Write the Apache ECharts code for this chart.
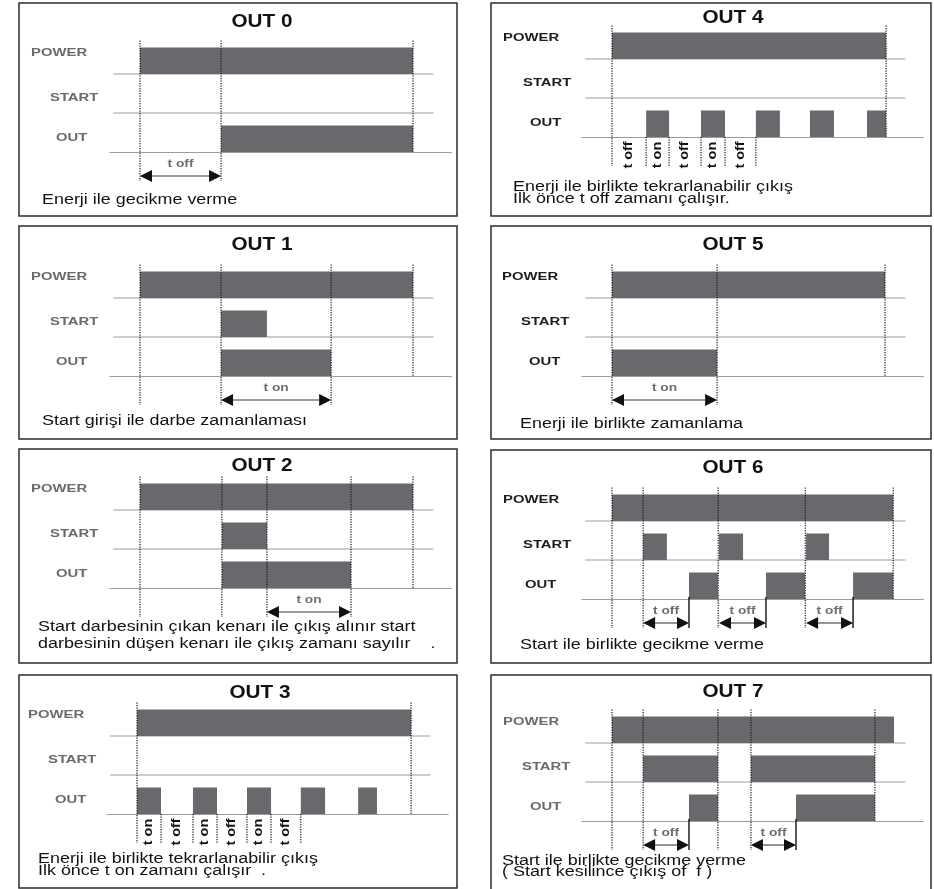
<!DOCTYPE html>
<html>
<head>
<meta charset="utf-8">
<script src="https://cdn.jsdelivr.net/npm/echarts@6/dist/echarts.min.js"></script>
<style>
html,body{margin:0;padding:0;background:#fff;}
#chart{width:934px;height:889px;}
</style>
</head>
<body>
<div id="chart"></div>
<script>
// ---------------- DATA ----------------
const rows = ['POWER', 'START', 'OUT'];
const titles = ['OUT 0', 'OUT 1', 'OUT 2', 'OUT 3', 'OUT 4', 'OUT 5', 'OUT 6', 'OUT 7'];
const captions = [
  ['Enerji ile gecikme verme'],
  ['Start girişi ile darbe zamanlaması'],
  ['Start darbesinin çıkan kenarı ile çıkış alınır start', 'darbesinin düşen kenarı ile çıkış zamanı sayılır    .'],
  ['Enerji ile birlikte tekrarlanabilir çıkış', 'İlk önce t on zamanı çalışır  .'],
  ['Enerji ile birlikte tekrarlanabilir çıkış', 'İlk önce t off zamanı çalışır.'],
  ['Enerji ile birlikte zamanlama'],
  ['Start ile birlikte gecikme verme'],
  ['Start ile birlikte gecikme verme', '( Start kesilince çıkış of  f )']
];
// signal "on" spans [from, to] in time units, power switched on at t = 0
const powerSpans = [
  [[0, 100]], [[0, 100]], [[0, 100]], [[0, 100.4]],
  [[0, 100.4]], [[0, 100]], [[0, 103]], [[0, 103.3]]
];
const startSpans = [
  [], [[29.7, 46.5]], [[30, 46.5]], [],
  [], [], [[11.4, 20.1], [39.2, 48], [71.1, 79.5]], [[11.4, 38.8], [50.9, 96.3]]
];
const outSpans = [
  [[29.7, 100]],
  [[29.7, 70]],
  [[30, 77.3]],
  [[0, 8.8], [20.5, 29.3], [40.3, 49.1], [60, 68.9], [81, 87.9]],
  [[12.5, 20.9], [32.6, 41.4], [52.7, 61.5], [72.5, 81.3], [93.4, 100.4]],
  [[0, 38.5]],
  [[28.2, 38.8], [56.4, 70.7], [88.3, 103]],
  [[28.2, 38.8], [67.4, 96.3]]
];
// dotted guide lines: [time, extent]  (full / top / low)
const guideTimes = [
  [[0, 'full'], [29.7, 'full'], [100, 'top']],
  [[0, 'full'], [29.7, 'full'], [70, 'full'], [100, 'top']],
  [[0, 'full'], [30, 'full'], [46.5, 'full'], [77.3, 'full'], [100, 'top']],
  [[0, 'full'], [8.8, 'low'], [20.5, 'low'], [29.3, 'low'], [40.3, 'low'], [49.1, 'low'], [60, 'low'], [100.4, 'top']],
  [[0, 'full'], [12.5, 'low'], [20.9, 'low'], [32.6, 'low'], [41.4, 'low'], [52.7, 'low'], [100.4, 'top']],
  [[0, 'full'], [38.5, 'full'], [100, 'top']],
  [[0, 'full'], [11.4, 'full'], [38.9, 'full'], [70.8, 'full'], [103, 'top']],
  [[0, 'full'], [11.4, 'full'], [38.8, 'full'], [50.9, 'full'], [96.3, 'top']]
];
// solid end-of-delay markers
const stopTimes = [[], [], [], [], [], [], [28.2, 56.4, 88.3], [28.2, 67.4]];
// double-headed timing arrows: [from, to, label]
const timedArrows = [
  [[0, 29.7, 't off']],
  [[29.7, 70, 't on']],
  [[46.5, 77.3, 't on']],
  [],
  [],
  [[0, 38.5, 't on']],
  [[11.4, 28.2, 't off'], [39.2, 56.4, 't off'], [71.1, 88.3, 't off']],
  [[11.4, 28.2, 't off'], [50.9, 67.4, 't off']]
];
// vertical interval labels: [from, to, label]
const stepLabels = [
  [], [], [],
  [[0, 8.8, 't on'], [8.8, 20.5, 't off'], [20.5, 29.3, 't on'], [29.3, 40.3, 't off'], [40.3, 49.1, 't on'], [49.1, 60, 't off']],
  [[0, 12.5, 't off'], [12.5, 20.9, 't on'], [20.9, 32.6, 't off'], [32.6, 41.4, 't on'], [41.4, 52.7, 't off']],
  [], [], []
];

// ---------------- LAYOUT ----------------
const PXU = 2.73;            // pixels per time unit
const ROWH = 39;             // pixels per signal row
const XMIN = -11, XMAX = 114;
const BASE_SPAN = [-9.8, 107.5];
const BAR_H = 0.68;
const BAR_COLOR = '#68696d';
const LINE_COLOR = '#9c9c9c';
const FONT = '"Liberation Sans", Arial, sans-serif';
const layout = [
  { box: [19, 3, 438, 213], x0: 140, base: 152, title: [262, 22], cap: [42, [200]], lab: '#6b6b6b', labX: [12, 31, 37] },
  { box: [19, 226, 438, 213], x0: 140, base: 376, title: [262, 245], cap: [42, [421]], lab: '#6b6b6b', labX: [12, 31, 37] },
  { box: [19, 449, 438, 214], x0: 140, base: 588, title: [262, 466], cap: [38, [627, 644]], lab: '#6b6b6b', labX: [12, 31, 37] },
  { box: [19, 675, 438, 213], x0: 137, base: 814, title: [260, 693], cap: [38, [859, 871]], lab: '#6b6b6b', labX: [9, 29, 36] },
  { box: [491, 3, 440, 213], x0: 612, base: 137, title: [733, 18], cap: [513, [187, 199]], lab: '#1e1e1e', labX: [12, 32, 39] },
  { box: [491, 226, 440, 213], x0: 612, base: 376, title: [733, 245], cap: [520, [424]], lab: '#1e1e1e', labX: [11, 30, 38] },
  { box: [491, 450, 440, 213], x0: 612, base: 599, title: [733, 468], cap: [520, [645]], lab: '#1e1e1e', labX: [12, 32, 34] },
  { box: [491, 675, 440, 216], x0: 612, base: 821, title: [733, 692], cap: [502, [861, 872]], lab: '#6b6b6b', labX: [12, 31, 39] }
];
const LAB_DY = [-21, -15, -14];

const chart = echarts.init(document.getElementById('chart'), null, { renderer: 'canvas' });

const grids = [], xAxes = [], yAxes = [], series = [], graphics = [];

function rowValue(name) { return rows.length - 1 - rows.indexOf(name); }

function txt(text, x, y, font, fill, align, extra) {
  return Object.assign({
    type: 'text', x: x, y: y, silent: true,
    style: { text: text, font: font, fill: fill, align: align, verticalAlign: 'middle',
             textAlign: align, textVerticalAlign: 'middle' }
  }, extra || {});
}

layout.forEach((L, p) => {
  grids.push({ left: L.x0 + XMIN * PXU, top: L.base - 3 * ROWH, width: (XMAX - XMIN) * PXU, height: 3 * ROWH });
  xAxes.push({ gridIndex: p, type: 'value', min: XMIN, max: XMAX,
    axisLine: { show: true, onZero: false, lineStyle: { color: LINE_COLOR, width: 1.2 } },
    axisTick: { show: false }, axisLabel: { show: false }, splitLine: { show: false } });
  yAxes.push({ gridIndex: p, type: 'value', min: 0, max: 3, show: false, splitLine: { show: false } });

  // baselines of POWER and START rows
  series.push({
    type: 'custom', xAxisIndex: p, yAxisIndex: p, silent: true,
    data: [[BASE_SPAN[0], rowValue('POWER')], [BASE_SPAN[0], rowValue('START')]],
    renderItem: function (params, api) {
      const a = api.coord([BASE_SPAN[0], api.value(1)]);
      const b = api.coord([BASE_SPAN[1], api.value(1)]);
      return { type: 'line', shape: { x1: a[0], y1: a[1], x2: b[0], y2: b[1] },
               style: { stroke: LINE_COLOR, lineWidth: 1.2 } };
    }
  });

  // signal bars
  const barData = [];
  powerSpans[p].forEach(s => barData.push([s[0], s[1], rowValue('POWER')]));
  startSpans[p].forEach(s => barData.push([s[0], s[1], rowValue('START')]));
  outSpans[p].forEach(s => barData.push([s[0], s[1], rowValue('OUT')]));
  series.push({
    type: 'custom', xAxisIndex: p, yAxisIndex: p, silent: true,
    encode: { x: [0, 1], y: 2 },
    data: barData,
    renderItem: function (params, api) {
      const s = api.coord([api.value(0), api.value(2)]);
      const e = api.coord([api.value(1), api.value(2)]);
      const h = api.size([0, BAR_H])[1];
      return { type: 'rect', shape: { x: s[0], y: s[1] - h, width: e[0] - s[0], height: h },
               style: { fill: BAR_COLOR } };
    }
  });

  // dotted guides
  const gts = guideTimes[p];
  series.push({
    type: 'custom', xAxisIndex: p, yAxisIndex: p, silent: true,
    data: gts.map(g => [g[0], 0]),
    renderItem: function (params, api) {
      const kind = gts[params.dataIndex][1];
      const top = api.coord([api.value(0), rowValue('POWER') + BAR_H]);
      const base = api.coord([api.value(0), 0]);
      let y1 = top[1] - 7, y2 = base[1] + 29;
      if (kind === 'top') y2 = base[1];
      if (kind === 'low') y1 = base[1];
      return { type: 'line', shape: { x1: base[0], y1: y1, x2: base[0], y2: y2 },
               style: { stroke: '#1a1a1a', lineWidth: 1.2, lineDash: [1.2, 1.3] } };
    }
  });

  // solid stop markers
  if (stopTimes[p].length) {
    series.push({
      type: 'custom', xAxisIndex: p, yAxisIndex: p, silent: true,
      data: stopTimes[p].map(t => [t, 0]),
      renderItem: function (params, api) {
        const b = api.coord([api.value(0), 0]);
        return { type: 'line', shape: { x1: b[0], y1: b[1] - 2, x2: b[0], y2: b[1] + 29 },
                 style: { stroke: '#111', lineWidth: 1.4 } };
      }
    });
  }

  // timing arrows
  const arr = timedArrows[p];
  if (arr.length) {
    series.push({
      type: 'custom', xAxisIndex: p, yAxisIndex: p, silent: true,
      data: arr.map(a => [a[0], a[1], 0]),
      renderItem: function (params, api) {
        const a = api.coord([api.value(0), 0]);
        const b = api.coord([api.value(1), 0]);
        const y = a[1] + 24, hl = 12, hw = 6;
        const label = arr[params.dataIndex][2];
        return { type: 'group', children: [
          { type: 'line', shape: { x1: a[0] + hl, y1: y, x2: b[0] - hl, y2: y },
            style: { stroke: '#7a7a7a', lineWidth: 1.6 } },
          { type: 'polygon', shape: { points: [[a[0], y], [a[0] + hl, y - hw], [a[0] + hl, y + hw]] },
            style: { fill: '#111' } },
          { type: 'polygon', shape: { points: [[b[0], y], [b[0] - hl, y - hw], [b[0] - hl, y + hw]] },
            style: { fill: '#111' } },
          txt(label, (a[0] + b[0]) / 2, a[1] + 12, 'bold 11px ' + FONT, '#6e6e6e', 'center', { scaleX: 1.25 })
        ] };
      }
    });
  }

  // vertical interval labels
  const sl = stepLabels[p];
  if (sl.length) {
    series.push({
      type: 'custom', xAxisIndex: p, yAxisIndex: p, silent: true,
      data: sl.map(s => [s[0], s[1], 0]),
      renderItem: function (params, api) {
        const a = api.coord([api.value(0), 0]);
        const b = api.coord([api.value(1), 0]);
        return txt(sl[params.dataIndex][2], (a[0] + b[0]) / 2, a[1] + 18, 'bold 12px ' + FONT, '#111', 'center',
          { rotation: Math.PI / 2, scaleX: 1.2 });
      }
    });
  }

  // frame, title, row labels, captions
  graphics.push({ type: 'rect', silent: true, shape: { x: L.box[0], y: L.box[1], width: L.box[2], height: L.box[3] },
    style: { fill: 'none', stroke: '#2b2b2b', lineWidth: 1.5 } });
  graphics.push(txt(titles[p], L.title[0], L.title[1], 'bold 18px ' + FONT, '#111', 'center', { scaleX: 1.15 }));
  rows.forEach((r, i) => {
    const rowBase = L.base - (rows.length - 1 - i) * ROWH;
    graphics.push(txt(r, L.box[0] + L.labX[i], rowBase + LAB_DY[i], 'bold 11px ' + FONT, L.lab, 'left', { scaleX: 1.35 }));
  });
  captions[p].forEach((c, i) => {
    graphics.push(txt(c, L.cap[0], L.cap[1][i], '14px ' + FONT, '#111', 'left', { scaleX: 1.28 }));
  });
});

chart.setOption({
  animation: false,
  backgroundColor: '#ffffff',
  grid: grids,
  xAxis: xAxes,
  yAxis: yAxes,
  series: series,
  graphic: { elements: graphics }
});
</script>
</body>
</html>
